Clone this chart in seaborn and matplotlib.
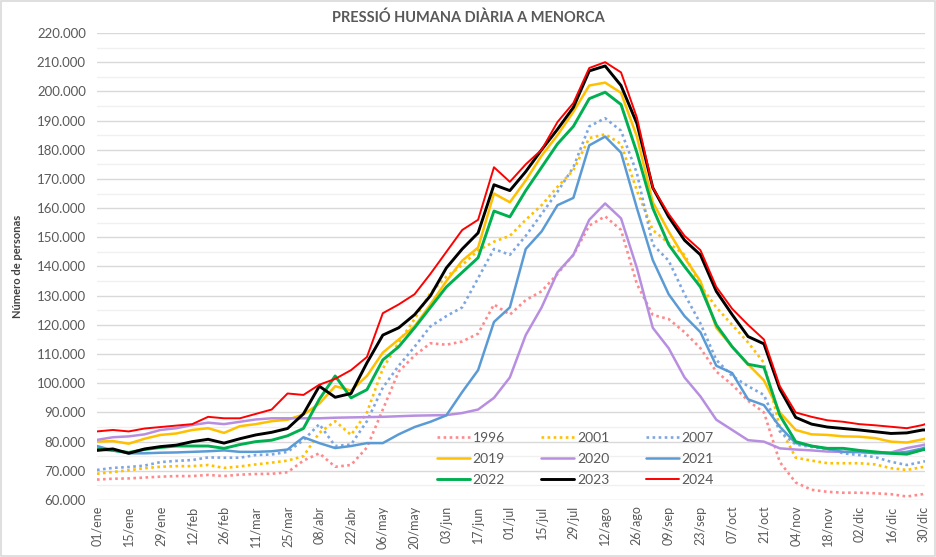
import numpy as np
import pandas as pd
import matplotlib
matplotlib.use("Agg")
import matplotlib.pyplot as plt
import matplotlib.ticker as mticker
from matplotlib.patches import Rectangle
import seaborn as sns

# dia de l'any (0 = 01/ene), mostreig setmanal
days = list(range(0, 365, 7)) + [365]

# milers de persones
v1996 = [67.0, 67.3, 67.4, 67.7, 68.0, 68.2, 68.2, 68.6, 68.2, 68.7, 68.9, 69.0, 69.5, 73.5, 76.0, 71.4, 72.0, 78.0,
         91.0, 104.0, 109.5, 113.7, 113.2, 114.3, 117.0, 127.0, 123.5, 128.5, 131.5, 137.5, 144.0, 154.0, 157.2, 152.5,
         134.0, 123.4, 122.0, 117.5, 112.0, 104.0, 99.5, 94.0, 90.0, 73.0, 66.0, 63.5, 62.8, 62.5, 62.5, 62.3, 62.0,
         61.2, 62.0, 62.2]
v2001 = [69.0, 69.6, 70.2, 70.9, 71.4, 71.6, 71.6, 72.0, 71.0, 71.5, 72.2, 72.8, 73.5, 75.0, 83.0, 87.0, 82.3, 90.0,
         105.0, 114.0, 122.0, 131.0, 136.5, 140.5, 145.5, 148.5, 150.5, 156.0, 161.0, 167.3, 173.0, 184.0, 185.3, 182.0,
         166.0, 152.5, 148.0, 144.0, 133.5, 126.0, 120.0, 114.0, 107.0, 85.0, 74.5, 73.5, 72.6, 72.6, 72.6, 72.2, 70.9,
         70.3, 71.3, 71.5]
v2007 = [70.3, 71.0, 71.3, 71.8, 73.0, 73.4, 73.7, 74.6, 74.5, 74.5, 75.4, 75.6, 76.5, 80.5, 86.0, 78.5, 79.0, 87.0,
         98.5, 106.0, 112.5, 119.5, 123.0, 126.0, 136.0, 146.0, 144.0, 150.5, 158.0, 165.6, 174.0, 188.0, 190.8, 186.5,
         172.0, 147.5, 142.0, 130.5, 120.5, 108.0, 102.5, 99.0, 96.0, 83.5, 79.0, 78.2, 77.5, 76.0, 75.4, 74.7, 73.1,
         72.0, 73.1, 73.3]
v2019 = [80.0, 80.2, 79.3, 81.0, 82.3, 82.8, 84.0, 84.6, 83.0, 85.3, 86.0, 87.0, 87.5, 89.3, 93.0, 99.0, 97.5, 102.5,
         110.5, 115.0, 119.5, 127.0, 135.0, 142.0, 146.5, 165.0, 162.0, 169.5, 178.0, 185.0, 193.0, 202.0, 203.0, 199.5,
         184.5, 162.0, 152.0, 143.0, 135.0, 119.0, 112.5, 106.5, 101.0, 90.0, 84.0, 82.5, 82.3, 81.8, 81.7, 81.2, 80.0,
         79.7, 80.8, 81.0]
v2020 = [80.6, 81.5, 81.8, 82.5, 84.0, 84.6, 85.7, 86.5, 86.0, 86.8, 87.6, 88.0, 88.0, 88.0, 88.0, 88.2, 88.3, 88.4,
         88.5, 88.7, 88.9, 89.0, 89.1, 89.8, 91.0, 95.0, 102.0, 116.5, 126.0, 138.0, 144.0, 156.0, 161.6, 156.5,
         139.5, 119.0, 112.0, 102.0, 95.5, 87.5, 84.0, 80.5, 80.0, 77.7, 77.3, 77.0, 76.6, 76.5, 76.4, 76.3, 76.3,
         77.8, 78.8, 79.0]
v2021 = [78.5, 77.0, 76.0, 76.0, 76.2, 76.3, 76.5, 76.7, 77.0, 76.5, 76.5, 76.7, 77.3, 81.5, 79.5, 77.8, 78.5, 79.5,
         79.5, 82.5, 85.0, 86.8, 89.0, 97.0, 104.5, 121.0, 126.0, 146.0, 152.0, 161.0, 163.5, 181.5, 184.5, 179.0,
         160.0, 142.2, 130.5, 123.0, 117.5, 106.0, 103.5, 94.5, 92.5, 85.1, 79.5, 78.5, 77.5, 76.5, 76.5, 76.0, 76.0,
         76.5, 77.7, 78.0]
v2022 = [77.5, 77.0, 76.3, 77.3, 78.0, 78.5, 78.5, 78.5, 77.7, 79.0, 80.0, 80.5, 82.0, 84.5, 94.5, 102.5, 95.0, 97.8,
         108.0, 112.5, 119.0, 126.0, 133.0, 138.0, 143.0, 159.0, 157.0, 166.0, 174.0, 182.0, 188.0, 197.5, 199.7, 195.5,
         179.0, 160.0, 147.5, 140.0, 133.0, 120.0, 112.5, 106.5, 105.5, 89.0, 80.0, 78.5, 77.7, 77.7, 77.0, 76.5, 76.0,
         75.7, 77.2, 77.3]
v2023 = [77.0, 77.5, 76.0, 77.5, 78.3, 78.8, 80.0, 80.8, 79.5, 81.0, 82.3, 83.2, 84.5, 89.5, 99.0, 95.2, 96.5, 107.0,
         116.5, 119.0, 123.5, 130.0, 139.5, 146.0, 151.5, 168.0, 166.0, 172.5, 180.0, 187.0, 194.5, 207.0, 208.7, 202.0,
         189.0, 167.0, 157.0, 149.0, 144.0, 131.5, 123.5, 116.0, 113.5, 98.0, 88.3, 86.0, 85.0, 84.5, 84.0, 83.4, 82.8,
         83.0, 84.0, 84.0]
v2024 = [83.5, 84.0, 83.5, 84.5, 85.0, 85.5, 86.0, 88.5, 88.0, 88.0, 89.5, 91.0, 96.5, 96.0, 99.5, 101.5, 104.5, 109.0,
         124.0, 127.0, 130.5, 137.5, 145.0, 152.5, 156.0, 174.0, 169.0, 175.0, 180.0, 189.5, 196.0, 208.0, 210.0, 206.5,
         191.0, 167.0, 158.0, 150.5, 145.6, 133.0, 125.5, 120.0, 115.0, 99.0, 90.0, 88.5, 87.3, 86.8, 86.0, 85.6, 85.1,
         84.6, 85.7, 86.0]

years = ["1996", "2001", "2007", "2019", "2020", "2021", "2022", "2023", "2024"]
series = [v1996, v2001, v2007, v2019, v2020, v2021, v2022, v2023, v2024]

tick_days = list(range(0, 365, 14))
tick_labels = ["01/ene", "15/ene", "29/ene", "12/feb", "26/feb", "11/mar", "25/mar", "08/abr", "22/abr",
               "06/may", "20/may", "03/jun", "17/jun", "01/jul", "15/jul", "29/jul", "12/ago", "26/ago",
               "09/sep", "23/sep", "07/oct", "21/oct", "04/nov", "18/nov", "02/dic", "16/dic", "30/dic"]

colors = ["#FF8A8C", "#FFC000", "#7EA6E0", "#FFC000", "#B88FE0", "#5B9BD5", "#00B050", "#000000", "#FF0000"]
widths = [1.9, 1.9, 1.9, 1.8, 1.8, 1.8, 2.1, 2.1, 1.4]
dot = (0, (1, 1.3))
styles = [dot, dot, dot, "-", "-", "-", "-", "-", "-"]

sns.set_theme(style="white")
plt.rcParams["font.family"] = ["Lato", "DejaVu Sans"]

fig = plt.figure(figsize=(9.37, 5.57), dpi=100)
ax = fig.add_axes([0.1035, 0.1023, 0.8837, 0.8385])

for yr, vals, c, lw, ls in zip(years, series, colors, widths, styles):
    sns.lineplot(x=days, y=vals, ax=ax, color=c, linewidth=lw, linestyle=ls, label=yr)

ax.set_xlim(0, 365)
ax.set_ylim(60, 220)
ax.yaxis.set_major_locator(mticker.MultipleLocator(10))
ax.yaxis.set_minor_locator(mticker.MultipleLocator(5))
ax.yaxis.set_major_formatter(mticker.FuncFormatter(lambda v, _: f"{v * 1000:,.0f}".replace(",", ".")))
ax.grid(axis="y", which="major", color="#D9D9D9", linewidth=1.0)
ax.grid(axis="y", which="minor", color="#F0F0F0", linewidth=1.0)
ax.grid(axis="x", visible=False)
ax.set_axisbelow(True)
for s in ax.spines.values():
    s.set_visible(False)

ax.set_xticks(tick_days)
ax.set_xticklabels(tick_labels, rotation=90)
ax.tick_params(axis="x", which="both", length=0, pad=4, labelsize=9, labelcolor="#595959")
ax.tick_params(axis="y", which="both", length=0, pad=8, labelsize=9.5, labelcolor="#595959")

ax.set_xlabel("")
ax.set_ylabel("Número de personas", fontsize=8, fontweight="bold", color="#404040", labelpad=10)

fig.text(0.5, 1 - 18 / 557, "PRESSIÓ HUMANA DIÀRIA A MENORCA", ha="center", va="center",
         fontsize=10.5, fontweight="bold", color="#595959")

handles, labels = ax.get_legend_handles_labels()
order = [0, 3, 6, 1, 4, 7, 2, 5, 8]
ax.legend([handles[i] for i in order], [labels[i] for i in order], ncol=3, loc="upper left",
          bbox_to_anchor=(0.395, 0.172), frameon=False, fontsize=10, handlelength=2.4,
          columnspacing=2.6, labelspacing=0.65, handletextpad=0.2, labelcolor="#595959")

fig.patches.append(Rectangle((0.001, 0.002), 0.997, 0.996, transform=fig.transFigure,
                             fill=False, edgecolor="#D9D9D9", linewidth=1.2))

fig.savefig("out.png", dpi=100)
